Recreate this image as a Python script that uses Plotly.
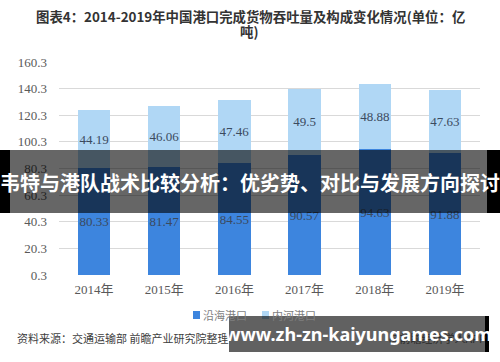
import plotly.graph_objects as go

years = ["2014年", "2015年", "2016年", "2017年", "2018年", "2019年"]
coastal = [80.33, 81.47, 84.55, 90.57, 94.63, 91.88]
inland = [44.19, 46.06, 47.46, 49.5, 48.88, 47.63]
series_names = ["沿海港口", "内河港口"]
series_colors = ["#3d85de", "#b0d7f5"]
ytick_vals = [0.3, 20.3, 40.3, 60.3, 80.3, 100.3, 120.3, 140.3, 160.3]
ytick_text = ["0.3", "20.3", "40.3", "60.3", "80.3", "100.3", "120.3", "140.3", "160.3"]

W, H = 500, 362
L, R, T, B = 59, 20, 62, 87
PW, PH = W - L - R, H - T - B


def px(x):
    return (x - L) / PW


def py(y):
    return (H - B - y) / PH


serif = "Liberation Serif, Noto Sans CJK SC, serif"
cjk = "Noto Sans CJK SC, sans-serif"

fig = go.Figure()
for vals, name, color in zip([coastal, inland], series_names, series_colors):
    fig.add_trace(go.Bar(
        x=years, y=vals, name=name,
        marker=dict(color=color, line=dict(width=0)),
        text=[str(v) for v in vals], textposition="inside",
        insidetextanchor="middle", textangle=0, constraintext="none",
        textfont=dict(color="#3b4a5e", size=13, family=serif),
    ))

shapes = []
annotations = []

# legend (manual, compact like the reference)
legend_x = [193, 262]
for lx, name, color in zip(legend_x, series_names, series_colors):
    shapes.append(dict(type="rect", xref="paper", yref="paper", x0=px(lx), x1=px(lx + 7),
                       y0=py(319), y1=py(311), fillcolor=color, line=dict(width=0), layer="below"))
    annotations.append(dict(text=name, xref="paper", yref="paper", x=px(lx + 8), y=py(315),
                            xanchor="left", yanchor="middle", showarrow=False,
                            font=dict(size=11, color="#7f7f7f", family=cjk)))

shapes += [
    # central overlay banner
    dict(type="rect", xref="paper", yref="paper", x0=px(10), x1=px(487), y0=py(213), y1=py(150),
         fillcolor="rgba(0,0,0,0.6)", line=dict(width=0), layer="above"),
    dict(type="rect", xref="paper", yref="paper", x0=px(0), x1=px(10), y0=py(213), y1=py(150),
         fillcolor="black", line=dict(width=0), layer="above"),
    dict(type="rect", xref="paper", yref="paper", x0=px(487), x1=px(500), y0=py(213), y1=py(150),
         fillcolor="black", line=dict(width=0), layer="above"),
    # bottom url banner
    dict(type="rect", xref="paper", yref="paper", x0=px(229), x1=px(485), y0=py(352), y1=py(316),
         fillcolor="rgba(0,0,0,0.62)", line=dict(width=0), layer="above"),
    dict(type="rect", xref="paper", yref="paper", x0=px(485), x1=px(489), y0=py(352), y1=py(316),
         fillcolor="black", line=dict(width=0), layer="above"),
]

annotations += [
    dict(text="<b>图表4：2014-2019年中国港口完成货物吞吐量及构成变化情况(单位：亿</b>",
         xref="paper", yref="paper", x=px(250), y=py(16), xanchor="center", yanchor="middle",
         showarrow=False, font=dict(size=13.4, color="#333333", family=cjk)),
    dict(text="<b>吨)</b>",
         xref="paper", yref="paper", x=px(249), y=py(31), xanchor="center", yanchor="middle",
         showarrow=False, font=dict(size=13.4, color="#333333", family=cjk)),
    dict(text="资料来源：交通运输部 前瞻产业研究院整理", xref="paper", yref="paper",
         x=px(15), y=py(338), xanchor="left", yanchor="middle", showarrow=False,
         font=dict(size=11, color="#404040", family=cjk)),
    dict(text="@前瞻经济学人APP", xref="paper", yref="paper",
         x=px(488), y=py(338), xanchor="right", yanchor="middle", showarrow=False,
         font=dict(size=11, color="#2a2a2a", family=cjk)),
    dict(text="<b>韦特与港队战术比较分析：优劣势、对比与发展方向探讨</b>", xref="paper", yref="paper",
         x=px(250), y=py(182), xanchor="center", yanchor="middle", showarrow=False,
         font=dict(size=20, color="white", family=cjk)),
    dict(text="<b>www.zh-zn-kaiyungames.com</b>", xref="paper", yref="paper",
         x=px(358), y=py(334), xanchor="center", yanchor="middle", showarrow=False,
         font=dict(size=18, color="white", family="Noto Sans, DejaVu Sans, sans-serif")),
]

fig.update_layout(
    width=W, height=H,
    margin=dict(l=L, r=R, t=T, b=B, autoexpand=False),
    paper_bgcolor="white", plot_bgcolor="white",
    barmode="stack", bargap=0.54,
    showlegend=False,
    xaxis=dict(showgrid=False, showline=False, ticks="", zeroline=False, ticklabelstandoff=5,
               tickfont=dict(size=13, color="#595959", family=serif)),
    yaxis=dict(range=[0.3, 160.3], tickvals=ytick_vals, ticktext=ytick_text,
               showgrid=True, gridcolor="#d9d9d9", gridwidth=1, zeroline=False,
               showline=False, ticks="", ticklabelstandoff=11,
               tickfont=dict(size=13, color="#595959", family=serif)),
    shapes=shapes, annotations=annotations,
)

fig.write_html("out.html", config={"displayModeBar": False},
               post_script="document.body.style.margin='0';document.body.style.overflow='hidden';")
